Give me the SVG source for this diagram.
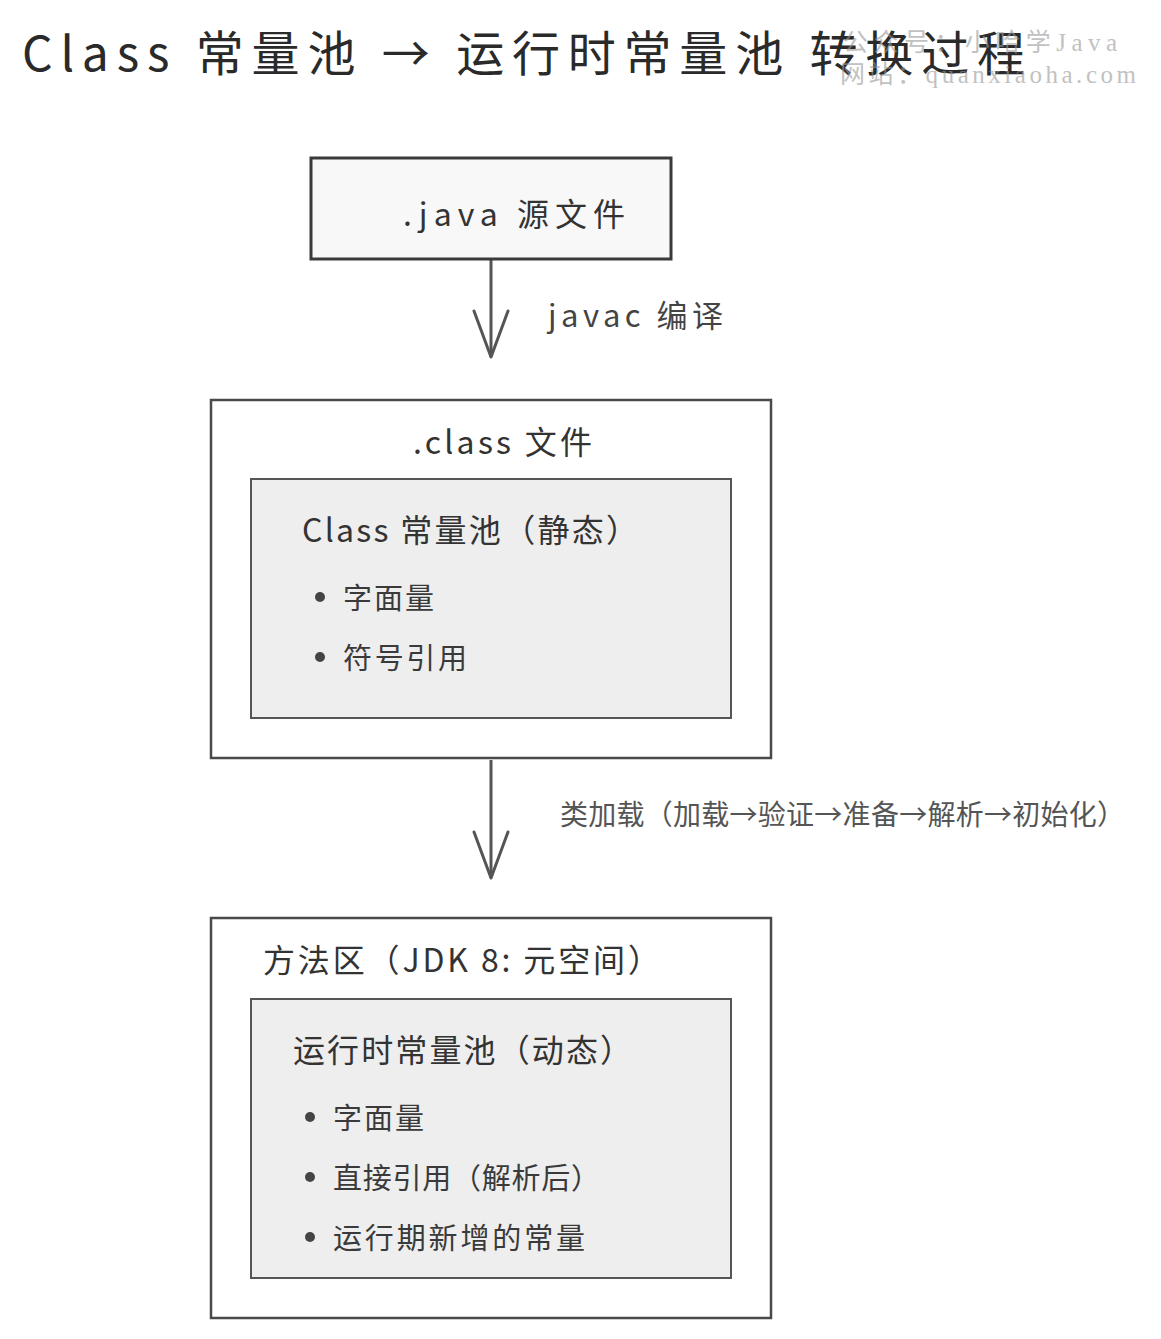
<svg xmlns="http://www.w3.org/2000/svg" width="1161" height="1339" viewBox="0 0 1161 1339">
<style>
text{font-family:"Noto Sans CJK SC","Noto Sans",sans-serif;dominant-baseline:central;fill:#333}
.title{font-size:48px;fill:#2a2a2a}
.box{fill:#ffffff;stroke:#4a4a4a;stroke-width:2.5}
.src{fill:#f8f8f8;stroke:#3a3a3a;stroke-width:3}
.inner{fill:#eeeeee;stroke:#555;stroke-width:2}
.h{font-size:32px}
.item{font-size:29px;fill:#3a3a3a}
.lbl{font-size:28px;fill:#555}
.lbl2{font-size:31px;fill:#444}
.bul{fill:#444}
.wm{font-family:"Liberation Serif","Noto Sans CJK SC",serif;font-size:25px;fill:#999;opacity:0.6}
.edge{stroke:#555;stroke-width:3;fill:none}
</style>
<defs>
<marker id="arr" viewBox="0 0 52 40" refX="48" refY="20" markerWidth="52" markerHeight="40" orient="auto" markerUnits="userSpaceOnUse">
<path d="M 2 3 L 48 20 L 2 37" fill="none" stroke="#555" stroke-width="3" stroke-linecap="round" stroke-linejoin="round"/>
</marker>
</defs>
<rect width="1161" height="1339" fill="#ffffff"/>
<text class="title" x="22" y="50" textLength="1003" lengthAdjust="spacing">Class 常量池 → 运行时常量池 转换过程</text>
<g id="connectors">
<line class="edge" x1="491" y1="260" x2="491" y2="357" marker-end="url(#arr)"/>
<text class="lbl2" x="548" y="313" textLength="175" lengthAdjust="spacing">javac 编译</text>
<line class="edge" x1="491" y1="760" x2="491" y2="878" marker-end="url(#arr)"/>
<text class="lbl" x="560" y="813" textLength="565" lengthAdjust="spacing">类加载（加载→验证→准备→解析→初始化）</text>
</g>
<g id="java-source">
<rect class="src" x="311" y="158" width="360" height="101"/>
<text class="h" x="403" y="212" textLength="222" lengthAdjust="spacing">.java 源文件</text>
</g>
<g id="class-file">
<rect class="box" x="211" y="400" width="560" height="358"/>
<text class="h" x="413" y="440" textLength="179" lengthAdjust="spacing">.class 文件</text>
</g>
<g id="class-constant-pool">
<rect class="inner" x="251" y="479" width="480" height="239"/>
<text class="h" x="302" y="528" textLength="336" lengthAdjust="spacing">Class 常量池（静态）</text>
<circle class="bul" cx="320" cy="597" r="5"/>
<text class="item" x="343" y="596" textLength="91" lengthAdjust="spacing">字面量</text>
<circle class="bul" cx="320" cy="657" r="5"/>
<text class="item" x="343" y="656" textLength="124" lengthAdjust="spacing">符号引用</text>
</g>
<g id="method-area">
<rect class="box" x="211" y="918" width="560" height="400"/>
<text class="h" x="263" y="958" textLength="397" lengthAdjust="spacing">方法区（JDK 8: 元空间）</text>
</g>
<g id="runtime-constant-pool">
<rect class="inner" x="251" y="999" width="480" height="279"/>
<text class="h" x="293" y="1048" textLength="339" lengthAdjust="spacing">运行时常量池（动态）</text>
<circle class="bul" cx="310" cy="1117" r="5"/>
<text class="item" x="333" y="1116" textLength="91" lengthAdjust="spacing">字面量</text>
<circle class="bul" cx="310" cy="1177" r="5"/>
<text class="item" x="333" y="1176" textLength="267" lengthAdjust="spacing">直接引用（解析后）</text>
<circle class="bul" cx="310" cy="1237" r="5"/>
<text class="item" x="333" y="1236" textLength="252" lengthAdjust="spacing">运行期新增的常量</text>
</g>
<g id="watermark">
<text class="wm" x="843" y="42" textLength="274" lengthAdjust="spacing">公众号：小哈学Java</text>
<text class="wm" x="840" y="74" textLength="296" lengthAdjust="spacing">网站：quanxiaoha.com</text>
</g>
</svg>
